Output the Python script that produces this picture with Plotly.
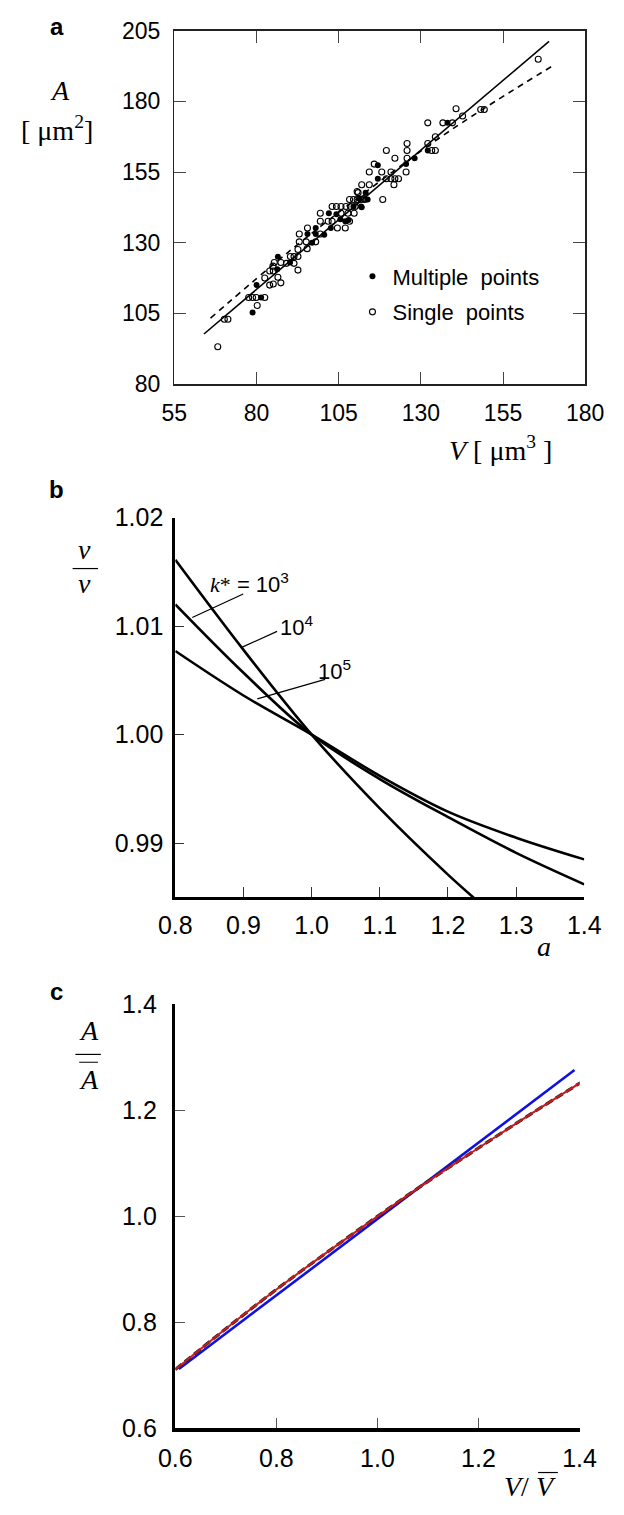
import plotly.graph_objects as go

W, H = 624, 1515


def px(x, y):
    return x / W, 1 - y / H


SANS = "Liberation Sans, Arial, sans-serif"
SERIF = "Liberation Serif, Times New Roman, serif"

# ---------------- Panel a data ----------------
single_V = [68.2, 70.2, 71.3, 80.2, 77.6, 78.8, 79.9, 82.5, 82.5, 84.0, 85.1, 87.4,
            86.5, 84.0, 85.1, 85.0, 85.4, 87.4, 90.3, 91.4, 92.6, 89.1, 91.4, 92.6,
            92.6, 93.0, 93.0, 95.5, 95.1, 95.4, 98.0, 99.4, 99.4, 99.4, 101.8, 103.0,
            103.0, 104.3, 105.7, 107.2, 108.6, 110.0, 105.7, 107.8, 109.7, 104.6, 107.0,
            110.9, 112.6, 118.4, 108.3, 132.1, 136.7, 139.6, 134.4, 132.1, 125.8, 119.5,
            125.8, 122.1, 125.8, 133.3, 134.4, 115.8, 114.3, 118.1, 120.9, 125.5, 119.5,
            120.9, 122.1, 123.2, 121.8, 112.0, 114.3, 110.6, 108.3, 109.5, 110.6, 111.8,
            112.9, 165.7, 140.7, 148.2, 149.3, 142.7]
single_A = [93.2, 102.9, 102.9, 107.8, 110.6, 110.6, 110.6, 110.6, 117.5, 115.0, 115.4, 115.8,
            117.8, 120.0, 120.0, 121.7, 123.0, 123.0, 125.1, 125.1, 125.1, 122.7, 122.7, 120.3,
            127.6, 130.3, 133.1, 135.2, 130.3, 127.9, 130.3, 133.1, 137.6, 140.4, 137.6, 137.6,
            142.8, 142.8, 142.8, 142.8, 142.8, 142.8, 140.4, 140.4, 140.4, 135.2, 135.2,
            147.7, 145.6, 145.3, 137.6, 172.4, 172.4, 172.4, 167.5, 165.1, 165.1, 162.6,
            162.6, 159.9, 159.9, 162.6, 162.6, 157.8, 155.0, 155.0, 155.0, 155.0, 152.6,
            152.6, 152.6, 152.6, 150.5, 150.5, 150.5, 148.1, 145.3, 145.3, 145.3, 145.3,
            145.3, 194.9, 177.4, 177.1, 177.1, 174.8]
multi_V = [78.8, 81.4, 80.0, 86.3, 86.5, 90.2, 95.5, 96.9, 98.0, 98.0, 100.6, 102.0,
           104.3, 105.5, 107.0, 102.6, 109.5, 111.8, 111.2, 113.2, 113.8, 112.0, 108.0,
           116.9, 116.9, 125.5, 128.1, 132.1, 138.1]
multi_A = [105.3, 110.6, 115.0, 120.6, 125.0, 123.0, 133.1, 130.0, 133.1, 135.2, 132.8, 140.4,
           140.1, 138.3, 137.6, 135.2, 142.8, 142.8, 145.6, 147.7, 145.3, 142.5, 138.0,
           157.4, 152.6, 157.8, 159.9, 162.6, 172.4]
fit_solid_V = [64.0, 169.0]
fit_solid_A = [97.7, 201.2]
fit_dash_V = [66.0, 90.0, 115.0, 140.0, 170.0]
fit_dash_A = [103.3, 127.0, 149.5, 170.5, 192.5]
a_xticks = [55, 80, 105, 130, 155, 180]
a_yticks = [80, 105, 130, 155, 180, 205]

# ---------------- Panel b data ----------------
b_a = [0.8, 0.9, 1.0, 1.1, 1.2, 1.3, 1.4]
b_k3 = [1.0120, 1.0057, 1.0, 0.9959, 0.9924, 0.9891, 0.9862]
b_k4_a = [0.8, 0.9, 1.0, 1.1, 1.2, 1.25]
b_k4 = [1.0161, 1.0078, 1.0, 0.9932, 0.9871, 0.9843]
b_k5 = [1.0077, 1.0036, 1.0, 0.9962, 0.9929, 0.9905, 0.9885]
b_xticks = [0.8, 0.9, 1.0, 1.1, 1.2, 1.3, 1.4]
b_xlabels = ["0.8", "0.9", "1.0", "1.1", "1.2", "1.3", "1.4"]
b_yticks = [0.99, 1.00, 1.01, 1.02]
b_ylabels = ["0.99", "1.00", "1.01", "1.02"]

# ---------------- Panel c data ----------------
c_blue_x = [0.607, 1.39]
c_blue_y = [0.712, 1.276]
c_x = [0.6, 0.7, 0.8, 0.9, 1.0, 1.1, 1.2, 1.3, 1.41]
c_y = [0.711, 0.788, 0.862, 0.932, 1.0, 1.066, 1.129, 1.191, 1.257]
c_ticks = [0.6, 0.8, 1.0, 1.2, 1.4]
c_labels = ["0.6", "0.8", "1.0", "1.2", "1.4"]

fig = go.Figure()

# Panel a traces
fig.add_trace(go.Scatter(x=fit_solid_V, y=fit_solid_A, mode="lines",
                         line=dict(color="black", width=1.6), showlegend=False,
                         xaxis="x", yaxis="y"))
fig.add_trace(go.Scatter(x=fit_dash_V, y=fit_dash_A, mode="lines",
                         line=dict(color="black", width=1.6, dash="6px,5px", shape="spline"),
                         showlegend=False, xaxis="x", yaxis="y"))
fig.add_trace(go.Scatter(x=single_V, y=single_A, mode="markers", name="Single\u00a0 points",
                         marker=dict(symbol="circle-open", size=6, color="black",
                                     line=dict(width=1.1, color="black")),
                         xaxis="x", yaxis="y", legendrank=2, legendgroup="s"))
fig.add_trace(go.Scatter(x=multi_V, y=multi_A, mode="markers", name="Multiple\u00a0 points",
                         marker=dict(symbol="circle", size=6, color="black"),
                         xaxis="x", yaxis="y", legendrank=1, legendgroup="m"))

# Panel b traces
for xs, ys in [(b_a, b_k3), (b_k4_a, b_k4), (b_a, b_k5)]:
    fig.add_trace(go.Scatter(x=xs, y=ys, mode="lines",
                             line=dict(color="black", width=2.6, shape="spline", smoothing=1.0),
                             showlegend=False, xaxis="x2", yaxis="y2"))

# Panel c traces
fig.add_trace(go.Scatter(x=c_blue_x, y=c_blue_y, mode="lines", line=dict(color="#1010e0", width=2.6),
                         showlegend=False, xaxis="x3", yaxis="y3"))
fig.add_trace(go.Scatter(x=c_x, y=c_y, mode="lines",
                         line=dict(color="#222222", width=3.2, dash="8px,4px", shape="spline"),
                         showlegend=False, xaxis="x3", yaxis="y3"))
fig.add_trace(go.Scatter(x=c_x, y=c_y, mode="lines", line=dict(color="#cc1a1a", width=2.0, shape="spline"),
                         showlegend=False, xaxis="x3", yaxis="y3"))

tickfont_a = dict(family=SANS, size=23, color="black")
tickfont_b = dict(family=SANS, size=25, color="black")

layout = dict(
    width=W, height=H,
    margin=dict(l=0, r=0, t=0, b=0),
    paper_bgcolor="white", plot_bgcolor="white",
    showlegend=True,
    legend=dict(x=px(356, 0)[0], y=px(0, 246)[1], xanchor="left", yanchor="top",
                font=dict(family=SANS, size=22, color="black"),
                bgcolor="rgba(0,0,0,0)", itemwidth=30, tracegroupgap=4,
                traceorder="grouped"),
    xaxis=dict(domain=[167 / W, 603 / W], range=[55, 180], tickvals=a_xticks,
               ticks="inside", ticklen=12, tickwidth=1, tickcolor="#444",
               showline=True, linecolor="#222", linewidth=1.5, mirror="ticks",
               showgrid=False, zeroline=False, tickfont=tickfont_a, anchor="y",
               ticklabelstandoff=8),
    yaxis=dict(domain=[1 - 377 / H, 1 - 17 / H], range=[80, 205], tickvals=a_yticks,
               ticks="inside", ticklen=12, tickwidth=1, tickcolor="#444",
               showline=True, linecolor="#222", linewidth=1.5, mirror="ticks",
               showgrid=False, zeroline=False, tickfont=tickfont_a, anchor="x",
               ticklabelstandoff=8),
    xaxis2=dict(domain=[168 / W, 602 / W], range=[0.8, 1.4], tickvals=b_xticks, ticktext=b_xlabels,
                ticks="inside", ticklen=10, tickwidth=1, tickcolor="#333",
                showline=True, linecolor="black", linewidth=3,
                showgrid=False, zeroline=False, tickfont=tickfont_b, anchor="y2",
                ticklabelstandoff=4),
    yaxis2=dict(domain=[1 - 900 / H, 1 - 513 / H], range=[0.985, 1.02], tickvals=b_yticks, ticktext=b_ylabels,
                ticks="inside", ticklen=9, tickwidth=1, tickcolor="#333",
                showline=True, linecolor="black", linewidth=3,
                showgrid=False, zeroline=False, tickfont=tickfont_b, anchor="x2",
                ticklabelstandoff=4),
    xaxis3=dict(domain=[168 / W, 597 / W], range=[0.6, 1.4], tickvals=c_ticks, ticktext=c_labels,
                ticks="inside", ticklen=10, tickwidth=1, tickcolor="#555",
                showline=True, linecolor="black", linewidth=3.5,
                showgrid=False, zeroline=False, tickfont=tickfont_b, anchor="y3",
                ticklabelstandoff=5),
    yaxis3=dict(domain=[1 - 1441 / H, 1 - 1009 / H], range=[0.6, 1.4], tickvals=c_ticks, ticktext=c_labels,
                ticks="inside", ticklen=10, tickwidth=1, tickcolor="#555",
                showline=True, linecolor="black", linewidth=3.5,
                showgrid=False, zeroline=False, tickfont=tickfont_b, anchor="x3",
                ticklabelstandoff=10),
)
fig.update_layout(**layout)


def ann(xp, yp, text, size=22, family=SANS, xanchor="center", yanchor="middle"):
    x, y = px(xp, yp)
    fig.add_annotation(x=x, y=y, xref="paper", yref="paper", text=text, showarrow=False,
                       font=dict(family=family, size=size, color="black"),
                       xanchor=xanchor, yanchor=yanchor)


def hline(x0, x1, yp, width=1.2):
    fig.add_shape(type="line", xref="paper", yref="paper",
                  x0=x0 / W, x1=x1 / W, y0=1 - yp / H, y1=1 - yp / H,
                  line=dict(color="black", width=width))


# Panel letters
ann(42, 13, "<b>a</b>", size=24)
ann(42, 484, "<b>b</b>", size=24)
ann(42, 996, "<b>c</b>", size=24)

# Panel a axis titles
ann(46, 78, "<i>A</i>", size=28, family=SERIF)
ann(42, 117, "[ μm<sup>2</sup>]", size=28, family=SERIF)
ann(513, 443, "<i>V</i> [ μm<sup>3</sup> ]", size=28, family=SERIF)

# Panel b axis titles
ann(72, 546, "<i>v</i>", size=28, family=SERIF)
hline(59, 86, 565)
ann(72, 580, "<i>v</i>", size=28, family=SERIF)
ann(559, 950, "<i>a</i>", size=28, family=SERIF)

# Panel b curve labels + leader lines
fig.add_annotation(x=0.8 + (247 - 168) / 723.3, y=1.02 - (580 - 513) / 11060, xref="x2", yref="y2",
                   text="<span style='font-family:Liberation Serif'><i>k</i>*</span> = 10<sup>3</sup>",
                   showarrow=False, font=dict(family=SANS, size=22, color="black"))
fig.add_annotation(x=0.8 + (297 - 168) / 723.3, y=1.02 - (624 - 513) / 11060, xref="x2", yref="y2",
                   text="10<sup>4</sup>", showarrow=False, font=dict(family=SANS, size=22, color="black"))
fig.add_annotation(x=0.8 + (337 - 168) / 723.3, y=1.02 - (668 - 513) / 11060, xref="x2", yref="y2",
                   text="10<sup>5</sup>", showarrow=False, font=dict(family=SANS, size=22, color="black"))
for (x0, y0, x1, y1) in [(0.8996, 1.01295, 0.8249, 1.01078),
                         (0.9493, 1.00951, 0.8982, 1.00806),
                         (1.0198, 1.00508, 0.9203, 1.00329)]:
    fig.add_shape(type="line", xref="x2", yref="y2", x0=x0, y0=y0, x1=x1, y1=y1,
                  line=dict(color="black", width=1.2))

# Panel c axis titles
ann(76, 1036, "<i>A</i>", size=28, family=SERIF)
hline(62, 89, 1060)
hline(66, 86, 1068, width=1.0)
ann(76, 1086, "<i>A</i>", size=28, family=SERIF)
ann(544, 1500, "<i>V</i>/ <i>V</i>", size=28, family=SERIF)
hline(553, 574, 1486, width=1.2)

fig.write_html("out.html", config={"displayModeBar": False, "staticPlot": True},
               post_script="document.body.style.margin='0';")
